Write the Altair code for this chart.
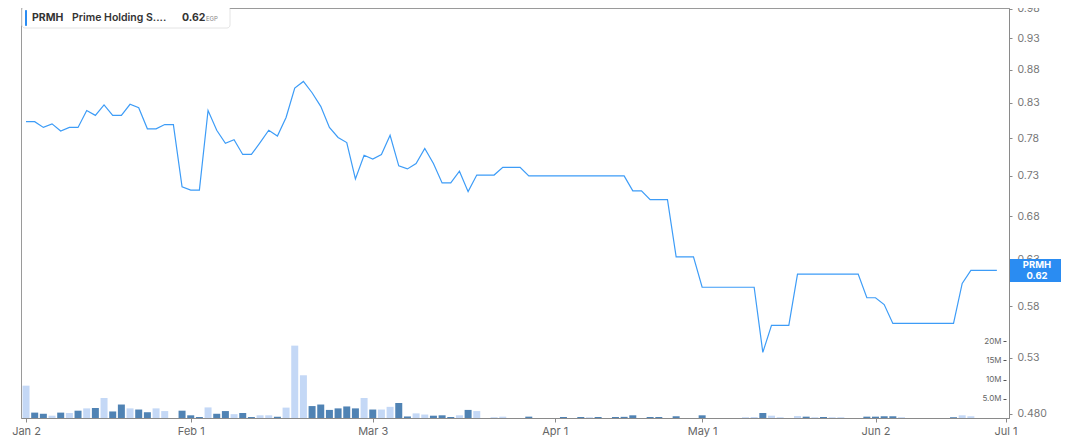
import altair as alt
import pandas as pd

# ---------------- data ----------------
ticker = "PRMH"
company = "Prime Holding S...."
currency = "EGP"

idx = list(range(113))

price = [
    0.803, 0.803, 0.795, 0.800, 0.790, 0.795, 0.795, 0.819, 0.812, 0.827,
    0.812, 0.812, 0.828, 0.823, 0.793, 0.793, 0.799, 0.799, 0.716, 0.712,
    0.712, 0.819, 0.791, 0.773, 0.778, 0.758, 0.758, 0.774, 0.791, 0.783,
    0.809, 0.852, 0.862, 0.845, 0.825, 0.795, 0.781, 0.774, 0.726, 0.757,
    0.752, 0.758, 0.784, 0.743, 0.739, 0.746, 0.766, 0.746, 0.721, 0.721,
    0.736, 0.710, 0.731, 0.731, 0.731, 0.741, 0.741, 0.741,
    0.730, 0.730, 0.730, 0.730, 0.730, 0.730, 0.730, 0.730, 0.730, 0.730, 0.730, 0.730,
    0.711, 0.711, 0.700, 0.700, 0.700, 0.633, 0.633, 0.633,
    0.600, 0.600, 0.600, 0.600, 0.600, 0.600, 0.600,
    0.535, 0.561, 0.561, 0.561,
    0.614, 0.614, 0.614, 0.614, 0.614, 0.614, 0.614, 0.614,
    0.589, 0.589, 0.582,
    0.563, 0.563, 0.563, 0.563, 0.563, 0.563, 0.563, 0.563,
    0.604, 0.618, 0.618, 0.618, 0.618,
]

volume_m = [
    8.4, 1.4, 1.1, 0.6, 1.4, 1.3, 1.9, 2.5, 2.6, 5.2,
    1.7, 3.5, 2.5, 2.2, 1.5, 2.5, 1.8, 0.0, 1.9, 0.7,
    0.26, 2.75, 1.1, 1.8, 1.0, 1.3, 0.25, 0.7, 0.7, 0.35,
    2.7, 18.8, 11.1, 3.1, 3.5, 2.1, 2.5, 3.0, 2.5, 5.2,
    2.2, 2.2, 2.9, 3.9, 0.4, 1.2, 0.9, 0.6, 0.7, 0.26,
    0.7, 2.1, 1.8, 0.0, 0.2, 0.35, 0.0, 0.0, 0.35, 0.0,
    0.0, 0.0, 0.26, 0.0, 0.26, 0.2, 0.26, 0.0, 0.26, 0.3,
    0.7, 0.0, 0.26, 0.26, 0.0, 0.45, 0.0, 0.0, 0.7, 0.0,
    0.0, 0.0, 0.0, 0.2, 0.25, 1.3, 0.6, 0.2, 0.0, 0.5,
    0.35, 0.2, 0.26, 0.2, 0.2, 0.0, 0.0, 0.35, 0.35, 0.45,
    0.45, 0.2, 0.0, 0.0, 0.0, 0.0, 0.0, 0.2, 0.7, 0.45,
    0.0, 0.0, 0.0,
]

tone = [
    "L", "D", "D", "L", "D", "L", "D", "L", "D", "L",
    "D", "D", "L", "D", "D", "L", "L", "L", "D", "D",
    "D", "L", "D", "D", "L", "D", "D", "L", "L", "D",
    "L", "L", "L", "D", "D", "D", "D", "D", "D", "L",
    "D", "L", "L", "D", "D", "L", "L", "D", "D", "D",
    "L", "D", "L", "L", "L", "L", "L", "L", "D", "L",
    "L", "L", "D", "L", "D", "L", "D", "L", "D", "D",
    "D", "L", "D", "D", "L", "D", "L", "L", "D", "L",
    "L", "L", "L", "L", "L", "D", "L", "L", "L", "L",
    "D", "L", "D", "L", "L", "L", "L", "D", "D", "D",
    "D", "L", "L", "L", "L", "L", "L", "D", "L", "L",
    "L", "L", "L",
]

tick_idx = [0, 19, 40, 61, 78, 98, 113]
tick_lbl = ["Jan 2", "Feb 1", "Mar 3", "Apr 1", "May 1", "Jun 2", "Jul 1"]
price_ticks = [0.48, 0.53, 0.58, 0.63, 0.68, 0.73, 0.78, 0.83, 0.88, 0.93, 0.98]
vol_ticks = [5e6, 10e6, 15e6, 20e6]

# ---------------- chart ----------------
W, H = 988, 410
FONT = "Inter"

df = pd.DataFrame({
    "idx": idx,
    "price": price,
    "vol": [v * 1e6 for v in volume_m],
    "tone": tone,
})
last = pd.DataFrame({"idx": [idx[-1]], "price": [price[-1]], "ticker": [ticker]})

label_expr = " : ".join(
    f"datum.value == {i} ? '{l}'" for i, l in zip(tick_idx, tick_lbl)
) + " : ''"

xscale = alt.Scale(domain=[-0.58, 113.4], nice=False, zero=False, padding=0)
pscale = alt.Scale(type="log", domain=[0.4766, 0.981], nice=False, zero=False)
vscale = alt.Scale(domain=[0, 106.5e6], nice=False, zero=True)

x_axis = alt.Axis(
    values=tick_idx, labelExpr=label_expr, title=None, grid=False,
    domainColor="#8a8a8a", tickColor="#8a8a8a", tickSize=4,
    labelColor="#666", labelFontSize=11, labelFont=FONT, labelPadding=3,
)

bars = alt.Chart(df).mark_bar(size=7).encode(
    x=alt.X("idx:Q", scale=xscale, axis=x_axis),
    y=alt.Y("vol:Q", scale=vscale, axis=alt.Axis(
        orient="left", offset=-(W - 3), values=vol_ticks, format=".2s",
        title=None, grid=False, domain=False, tickSize=3, tickColor="#555",
        labelColor="#666", labelFontSize=8, labelFont=FONT, labelPadding=2,
    )),
    color=alt.Color("tone:N", scale=alt.Scale(domain=["L", "D"], range=["#c4d8f6", "#5083b4"]), legend=None),
)

line = alt.Chart(df).mark_line(color="#3d9cf7", strokeWidth=1.2).encode(
    x=alt.X("idx:Q", scale=xscale, axis=x_axis),
    y=alt.Y("price:Q", scale=pscale, axis=alt.Axis(
        orient="right", values=price_ticks, title=None, grid=False,
        labelExpr="datum.value < 0.5 ? '0.480' : format(datum.value, '.2f')",
        domainColor="#8a8a8a", tickColor="#8a8a8a", tickSize=3,
        labelColor="#777", labelFontSize=10.5, labelFont=FONT, labelPadding=5,
    )),
)

badge_shape = "M-1,-0.39L1,-0.39L1,0.39L-1,0.39Z"
badge = alt.Chart(last).mark_point(
    shape=badge_shape, size=59 * 59, filled=True, opacity=1, color="#2a8cf2"
).encode(
    x=alt.value(W + 30.5),
    y=alt.Y("price:Q", scale=pscale, axis=None),
)
badge_t1 = alt.Chart(last).mark_text(
    color="white", fontWeight="bold", fontSize=9.5, font=FONT, dy=-5
).encode(
    x=alt.value(W + 28), y=alt.Y("price:Q", scale=pscale, axis=None), text="ticker:N"
)
badge_t2 = alt.Chart(last).mark_text(
    color="white", fontWeight="bold", fontSize=9.5, font=FONT, dy=6
).encode(
    x=alt.value(W + 28), y=alt.Y("price:Q", scale=pscale, axis=None),
    text=alt.Text("price:Q", format=".2f"),
)

# legend-like header box
hdr = pd.DataFrame({"ticker": [ticker], "company": [company], "last": [price[-1]], "cur": [currency]})
box = alt.Chart(hdr).mark_rect(fill="white", stroke="#e4e4e4", cornerRadius=3).encode(
    x=alt.value(1), x2=alt.value(209), y=alt.value(-1), y2=alt.value(20)
)
accent = alt.Chart(hdr).mark_rect(fill="#2a8cf2", cornerRadius=1).encode(
    x=alt.value(4), x2=alt.value(6), y=alt.value(2), y2=alt.value(18)
)
t_tick = alt.Chart(hdr).mark_text(align="left", fontWeight="bold", fontSize=10.5, font=FONT, color="#333").encode(
    x=alt.value(11), y=alt.value(9.5), text="ticker:N"
)
t_comp = alt.Chart(hdr).mark_text(align="left", fontWeight=600, fontSize=10.5, font=FONT, color="#333").encode(
    x=alt.value(51), y=alt.value(9.5), text="company:N"
)
t_last = alt.Chart(hdr).mark_text(align="left", fontWeight="bold", fontSize=10.5, font=FONT, color="#333").encode(
    x=alt.value(161), y=alt.value(9.5), text=alt.Text("last:Q", format=".2f")
)
t_cur = alt.Chart(hdr).mark_text(align="left", fontSize=6, font=FONT, color="#888").encode(
    x=alt.value(185), y=alt.value(10.5), text="cur:N"
)

chart = alt.layer(
    bars, line, badge, badge_t1, badge_t2, box, accent, t_tick, t_comp, t_last, t_cur
).resolve_scale(y="independent").properties(
    width=W, height=H,
    autosize=alt.AutoSizeParams(type="none"),
    padding={"left": 13, "top": 0, "right": 52, "bottom": 19},
).configure_view(stroke="#9a9a9a", strokeWidth=1)

chart.save("out.html", embed_options={"renderer": "svg", "actions": False})
